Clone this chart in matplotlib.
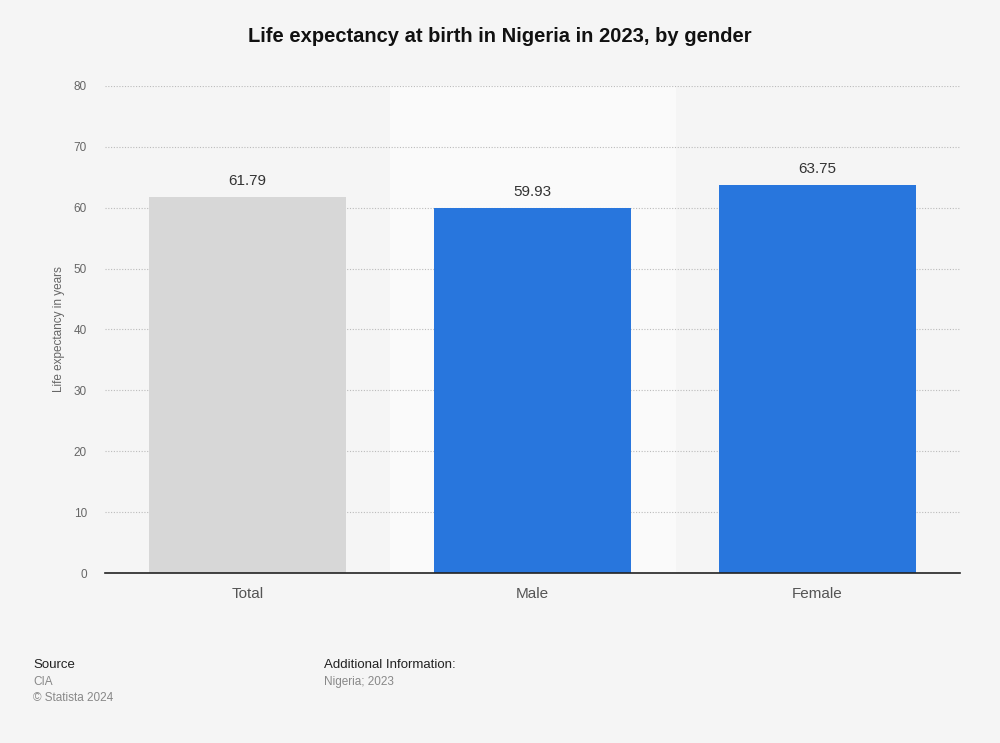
import matplotlib

matplotlib.use('Agg')
import matplotlib.pyplot as plt

plt.rcParams['font.family'] = ['Liberation Sans', 'DejaVu Sans']

categories = ['Total', 'Male', 'Female']
values = [61.79, 59.93, 63.75]
bar_colors = ['#d7d7d7', '#2876dd', '#2876dd']
yticks = [0, 10, 20, 30, 40, 50, 60, 70, 80]

fig = plt.figure(figsize=(10, 7.43), dpi=100)
fig.patch.set_facecolor('#f5f5f5')
ax = fig.add_axes([0.105, 0.2288, 0.855, 0.6555])
ax.set_facecolor('#f5f5f5')

x = list(range(len(categories)))
# highlighted column behind Male
ax.axvspan(0.5, 1.5, color='#fafafa', zorder=0)

ax.bar(x, values, width=0.688, color=bar_colors, zorder=3)
for xi, v in zip(x, values):
    ax.text(xi, v + 1.5, f'{v:.2f}', ha='center', va='bottom', fontsize=11, color='#333333', zorder=4)

ax.set_xlim(-0.5, 2.5)
ax.set_ylim(0, 80)
ax.set_yticks(yticks)
ax.set_yticklabels([str(t) for t in yticks], fontsize=8.5, color='#666666')
ax.set_xticks(x)
ax.set_xticklabels(categories, fontsize=11, color='#555555')
ax.tick_params(axis='y', length=0, pad=13)
ax.tick_params(axis='x', length=0, pad=10)
ax.grid(axis='y', linestyle=(0, (1, 1.5)), color='#bbbbbb', linewidth=0.8, zorder=1)
ax.set_axisbelow(True)
for s in ['top', 'right', 'left']:
    ax.spines[s].set_visible(False)
ax.spines['bottom'].set_color('#222222')
ax.spines['bottom'].set_linewidth(1.2)
ax.spines['bottom'].set_zorder(5)

ax.set_ylabel('Life expectancy in years', fontsize=8.5, color='#666666', labelpad=6)

fig.text(0.5, 0.951, 'Life expectancy at birth in Nigeria in 2023, by gender',
         ha='center', va='center', fontsize=14.5, fontweight='bold', color='#111111')

fig.text(0.033, 0.105, 'Source', fontsize=9.5, color='#222222', va='center')
fig.text(0.033, 0.082, 'CIA', fontsize=8.5, color='#888888', va='center')
fig.text(0.033, 0.061, '\u00a9 Statista 2024', fontsize=8.5, color='#888888', va='center')
fig.text(0.324, 0.105, 'Additional Information:', fontsize=9.5, color='#222222', va='center')
fig.text(0.324, 0.082, 'Nigeria; 2023', fontsize=8.5, color='#888888', va='center')

plt.savefig('out.png', dpi=100, facecolor=fig.get_facecolor())
plt.close()
